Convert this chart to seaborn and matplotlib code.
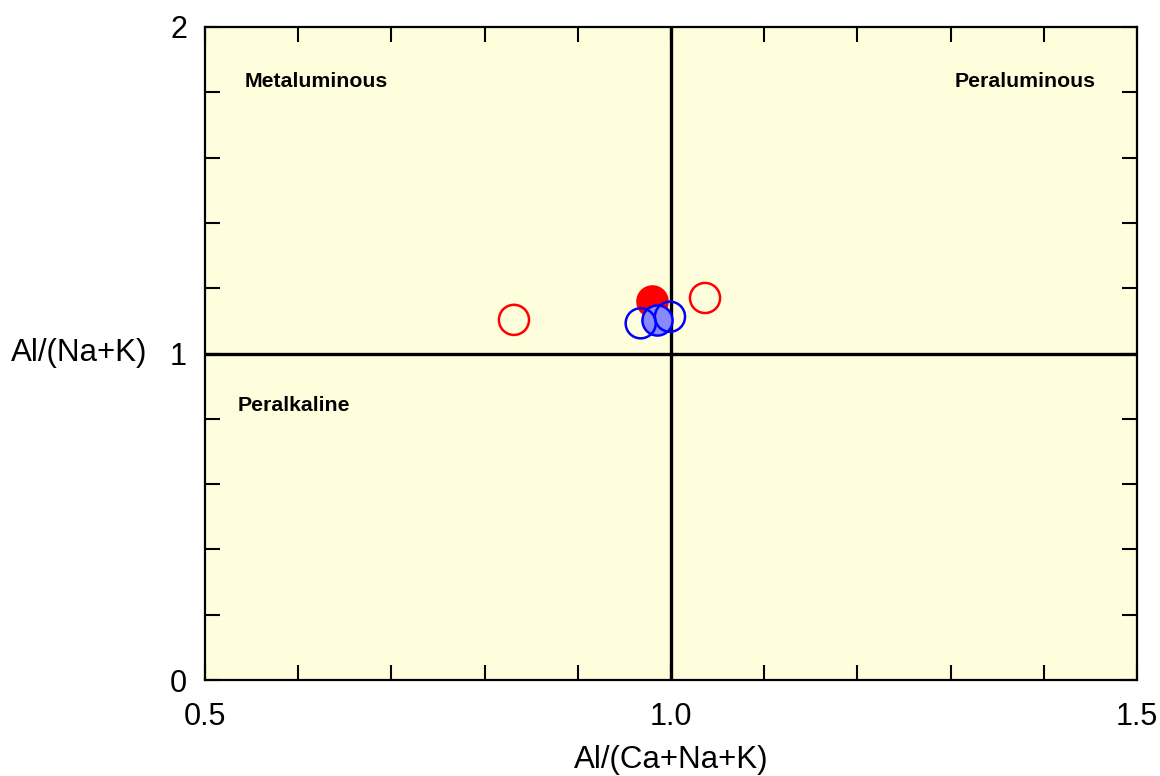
import matplotlib
matplotlib.use("Agg")
import matplotlib.pyplot as plt
from matplotlib.ticker import MultipleLocator, FixedLocator, FixedFormatter
import seaborn as sns

# Sample compositions: Al/(Ca+Na+K) vs Al/(Na+K)
red_open_x = [0.8315, 1.0365]
red_open_y = [1.103, 1.170]
red_fill_x = [0.9795]
red_fill_y = [1.161]
blue_fill_x = [0.9847]
blue_fill_y = [1.1026]
blue_open_x = [0.9675, 0.9989]
blue_open_y = [1.0925, 1.1127]

x_ticks = [0.5, 1.0, 1.5]
x_tick_labels = ["0.5", "1.0", "1.5"]
y_ticks = [0, 1, 2]
y_tick_labels = ["0", "1", "2"]

field_names = ["Metaluminous", "Peraluminous", "Peralkaline"]
field_x = [0.543, 1.456, 0.535]
field_y = [1.832, 1.832, 0.842]
field_ha = ["left", "right", "left"]

sns.set_theme(style="white")
plt.rcParams["font.family"] = ["Liberation Sans", "DejaVu Sans"]
plt.rcParams["text.color"] = "black"
plt.rcParams["axes.labelcolor"] = "black"
plt.rcParams["xtick.color"] = "black"
plt.rcParams["ytick.color"] = "black"

fig = plt.figure(figsize=(11.6, 7.76), dpi=100)
ax = fig.add_axes([205 / 1160, 96 / 776, 932 / 1160, 653 / 776])
ax.set_facecolor("#FFFEDC")

ms = 470
lw = 1.8
ax.axvline(1.0, color="black", lw=2.4, zorder=1)
ax.axhline(1.0, color="black", lw=2.4, zorder=1)

sns.scatterplot(x=red_open_x, y=red_open_y, ax=ax, s=ms, facecolor="none",
                edgecolor="#FF0000", linewidth=lw, zorder=3)
sns.scatterplot(x=red_fill_x, y=red_fill_y, ax=ax, s=ms, color="#FF0000",
                edgecolor="#FF0000", linewidth=lw, zorder=4)
sns.scatterplot(x=blue_fill_x, y=blue_fill_y, ax=ax, s=ms, color="#8888FF",
                edgecolor="#0000FF", linewidth=lw, zorder=5)
sns.scatterplot(x=blue_open_x, y=blue_open_y, ax=ax, s=ms, facecolor="none",
                edgecolor="#0000FF", linewidth=lw, zorder=6)

for name, fx, fy, ha in zip(field_names, field_x, field_y, field_ha):
    ax.text(fx, fy, name, ha=ha, va="center", fontsize=15.3,
            fontweight="bold", color="black", zorder=7)

ax.set_xlim(0.5, 1.5)
ax.set_ylim(0, 2)
ax.xaxis.set_major_locator(FixedLocator(x_ticks))
ax.xaxis.set_major_formatter(FixedFormatter(x_tick_labels))
ax.xaxis.set_minor_locator(MultipleLocator(0.1))
ax.yaxis.set_major_locator(FixedLocator(y_ticks))
ax.yaxis.set_major_formatter(FixedFormatter(y_tick_labels))
ax.yaxis.set_minor_locator(MultipleLocator(0.2))

ax.tick_params(which="both", direction="in", length=11, width=1.5,
               color="black", labelcolor="black",
               top=True, right=True, bottom=True, left=True)
ax.tick_params(axis="x", which="major", labelsize=22, pad=16)
ax.tick_params(axis="y", which="major", labelsize=22, pad=13)

for sp in ax.spines.values():
    sp.set_visible(True)
    sp.set_color("black")
    sp.set_linewidth(1.6)

ax.set_xlabel("Al/(Ca+Na+K)", fontsize=22.5, color="black", labelpad=9)
ax.set_ylabel("Al/(Na+K)", fontsize=22.5, color="black", rotation=0,
              ha="right", va="center")
ax.yaxis.set_label_coords(-0.062, 0.5)

fig.savefig("out.png", dpi=100, facecolor="white")
